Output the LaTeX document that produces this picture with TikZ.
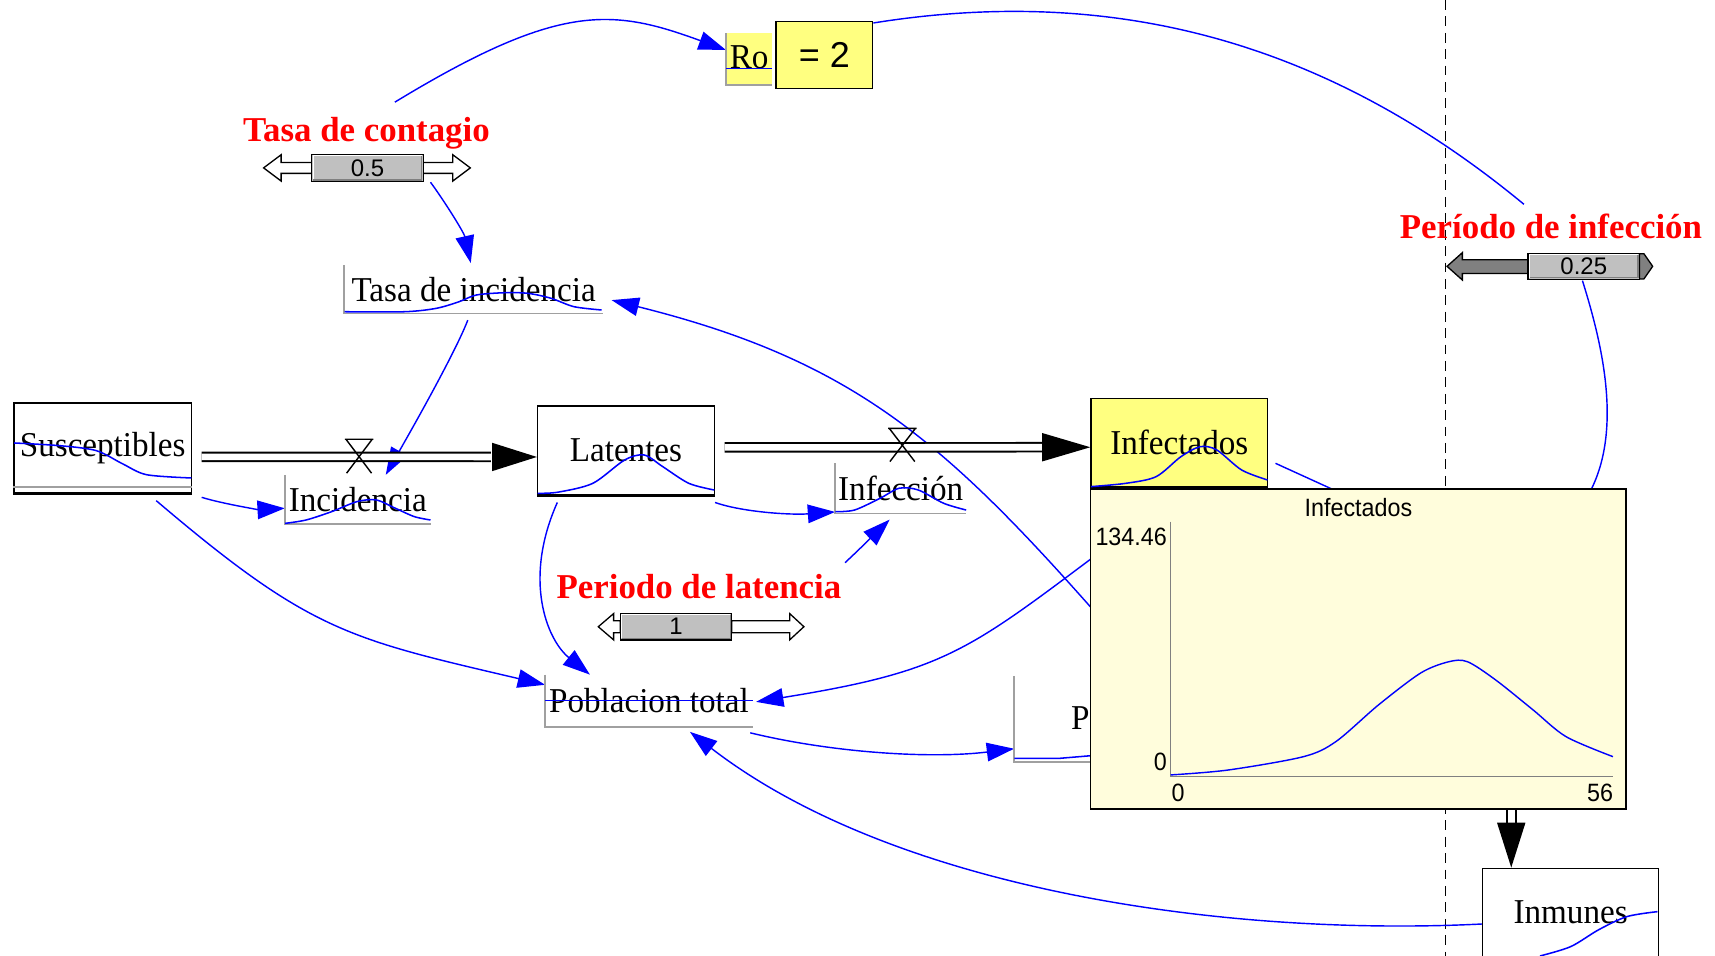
\documentclass[tikz,border=0pt]{standalone}
\usepackage{fontspec}
\setmainfont{Liberation Serif}
\newfontfamily\sansf{Liberation Sans}
\usepackage{graphicx}
\usetikzlibrary{arrows.meta,calc}
\pgfdeclarelayer{bg}
\pgfsetlayers{bg,main}
\definecolor{cblue}{RGB}{0,0,255}
\definecolor{cred}{RGB}{255,0,0}
\definecolor{yel}{RGB}{255,255,128}
\definecolor{paley}{RGB}{255,253,220}
\definecolor{axg}{RGB}{160,160,160}
\definecolor{sgray}{RGB}{192,192,192}
\definecolor{dgray}{RGB}{128,128,128}
\newcommand\lab[1]{\scalebox{0.95}[1]{#1}}
\newcommand\labfont{\fontsize{32}{38}\selectfont}
\newcommand\redfont{\bfseries\fontsize{32}{38}\selectfont}
\newcommand\gfont{\sansf\fontsize{23}{27}\selectfont}
\begin{document}
\begin{tikzpicture}[x=1bp,y=-1bp,
  conn/.style={draw=cblue,line width=1.3bp,-{Triangle[length=25bp,width=17bp]}},
  connfree/.style={draw=cblue,line width=1.3bp},
  spark/.style={draw=cblue,line width=1.4bp},
  stock/.style={draw=black,line width=1.4bp,fill=white,inner sep=0,font=\labfont},
  aux/.style={inner sep=0,font=\labfont},
  lsh/.style={draw=axg,line width=1.6bp},
  pipe/.style={draw=black,line width=1.8bp,double=white,double distance=6bp},
  valvest/.style={draw=black,line width=1.3bp},
  slbox/.style={draw=black,line width=1.2bp,fill=sgray,inner sep=0,font=\sansf\fontsize{22}{26}\selectfont},
  harrow/.style={draw=black,line width=1.2bp,fill=white},
  farrow/.style={draw=black,line width=1.2bp,fill=dgray},
  redlab/.style={text=cred,font=\redfont,inner sep=0,anchor=base},
  gtext/.style={font=\gfont,inner sep=0}]

\useasboundingbox (0,0) rectangle (1568,874);

% ---------- dashed separator ----------
\begin{pgfonlayer}{bg}
\draw[black,line width=1.2bp,dash pattern=on 9bp off 6bp] (1321.7,0) -- (1321.7,874);
\end{pgfonlayer}

% ---------- red labels ----------
\node[redlab] (tcl) at (335,129) {Tasa de contagio};
\node[redlab] (pll) at (639,547) {Periodo de latencia};
\node[redlab] (pil) at (1418,218) {Período de infección};

% ---------- sliders ----------
\draw[harrow] (285,148.5) -- (257,148.5) -- (257,141.5) -- (241,153.5) -- (257,165.5) -- (257,158.5) -- (285,158.5) -- cycle;
\draw[harrow] (387,148.5) -- (414,148.5) -- (414,141.5) -- (430,153.5) -- (414,165.5) -- (414,158.5) -- (387,158.5) -- cycle;
\node[slbox,minimum width=102bp,minimum height=25bp] (s1) at (336,153.5) {0.5};

\draw[harrow] (567,567.5) -- (561,567.5) -- (561,561) -- (547,573) -- (561,585) -- (561,578.5) -- (567,578.5) -- cycle;
\draw[harrow] (669,567.5) -- (722,567.5) -- (722,561) -- (735,573) -- (722,585) -- (722,578.5) -- (669,578.5) -- cycle;
\node[slbox,minimum width=102bp,minimum height=24.3bp] (s2) at (618,572.9) {1};

\draw[farrow] (1397,237.5) -- (1337,237.5) -- (1337,231) -- (1323,243.5) -- (1337,256) -- (1337,250) -- (1397,250) -- cycle;
\draw[farrow] (1499,232) -- (1503,232) -- (1511,243.5) -- (1503,255) -- (1499,255) -- cycle;
\node[slbox,minimum width=102bp,minimum height=23.8bp] (s3) at (1448,243.5) {0.25};

\foreach \s in {s1,s2,s3}{
  \draw[white,line width=1bp] ($(\s.south west)+(2,-2)$) |- ($(\s.north east)+(-2,2)$);
  \draw[dgray,line width=1bp] ($(\s.south west)+(2,-2)$) -| ($(\s.north east)+(-2,2)$);
}

% ---------- Ro ----------
\node[fill=yel,minimum width=42bp,minimum height=47.2bp,inner sep=0] (ro) at (684.9,54.1) {};
\draw[lsh] (ro.north west) -- (ro.south west) -- (ro.south east);
\node[font=\labfont,inner sep=0,anchor=base] (rotxt) at (684.9,62.5) {\lab{Ro}};
\draw[spark] (663.9,62.5) -- (705.9,62.5);
\node[draw=black,line width=1.5bp,fill=yel,minimum width=88bp,minimum height=61bp,inner sep=0,
      font=\sansf\fontsize{33}{40}\selectfont] (eq) at (753.75,50.25) {= 2};

% ---------- stocks ----------
\node[stock,minimum width=162.2bp,minimum height=82bp] (sus) at (93.9,409.5) {\lab{Susceptibles}};
\draw[axg,line width=1.5bp] ($(sus.south west)+(0,-6)$) -- ($(sus.south east)+(0,-6)$);
\draw[line width=3bp] (sus.south west) -- (sus.south east);
\draw[spark] plot[smooth] coordinates {(13,405) (55,407.5) (88,412) (112,424) (134,434) (175,437)};

\node[stock,minimum width=161.5bp,minimum height=81.6bp] (lat) at (572.3,411.8) {\lab{Latentes}};
\draw[line width=3bp] (lat.south west) -- (lat.south east);
\draw[spark] plot[smooth] coordinates {(491.5,451) (510,450) (542,441.9) (571,420.6) (589,416) (606,426.7) (629.8,441.9) (653,448)};

\node[stock,fill=yel,minimum width=161.3bp,minimum height=81.3bp] (inf) at (1078.2,404.9) {\lab{Infectados}};
\draw[line width=3bp] (inf.south west) -- (inf.south east);
\draw[spark] plot[smooth] coordinates {(997.5,444.9) (1029.3,441.9) (1057,435.8) (1079.7,417.5) (1097.3,408.4) (1112.5,411.4) (1135.2,429.7) (1158.8,438.8)};

\node[stock,minimum width=161bp,minimum height=81bp] (inm) at (1436,834.4) {\lab{Inmunes}};
\draw[spark] plot[smooth] coordinates {(1408,874) (1436,865.5) (1461.7,850) (1487.5,838) (1515.4,833.5)};

% ---------- auxiliaries ----------
\node[aux,minimum width=236bp,minimum height=44.2bp] (tinc) at (433,264.4) {\lab{Tasa de incidencia}};
\draw[lsh] (tinc.north west) -- (tinc.south west) -- (tinc.south east);
\draw[spark] plot[smooth] coordinates {(315,285) (370,285) (398.9,281.9) (419.9,275.8) (435.6,269.7) (461.8,267.6) (482.8,268.2) (503.8,272.7) (524.8,280.4) (550,283.4)};

\node[aux,minimum width=133bp,minimum height=44.7bp] (incid) at (327.1,456.7) {\lab{Incidencia}};
\draw[lsh] (incid.north west) -- (incid.south west) -- (incid.south east);
\draw[spark] plot[smooth] coordinates {(260.6,478.5) (279.9,475.4) (303.2,467.8) (326.5,458.6) (344,457.1) (361.5,464.7) (379,472.4) (393.6,475.4)};

\node[aux,minimum width=119.5bp,minimum height=45.7bp] (infcn) at (823.5,446.5) {\lab{Infección}};
\draw[lsh] (infcn.north west) -- (infcn.south west) -- (infcn.south east);
\draw[spark] plot[smooth] coordinates {(763.8,467.8) (781.3,466.3) (804.6,455.6) (822.1,446.4) (839.6,448) (862.9,460.2) (883.3,466.3)};

\node[aux,minimum width=189.5bp,minimum height=47.4bp] (pob) at (593.3,640.7) {\lab{Poblacion total}};
\draw[lsh] (pob.north west) -- (pob.south west) -- (pob.south east);
\draw[spark] (498.5,640.6) -- (688,640.6);

\node[aux,minimum width=132.6bp,minimum height=78.3bp] (prev) at (993.7,657.2) {};
\draw[lsh] (prev.north west) -- (prev.south west) -- (prev.south east);
\node[font=\labfont,inner sep=0,anchor=base west] (prevlbl) at (979,667) {\lab{P}};
\draw[spark] (927.4,693.3) -- (969,693.3) -- (996.5,691);

% ---------- flows ----------
\draw[pipe] ($(sus.east)+(8.7,8.2)$) -- ($(lat.west)+(-42,6)$);
\fill ($(lat.west)+(0,6)$) -- ++(-41,-13) -- ++(0,26) -- cycle;
\begin{scope}[shift={(328.3,401.6)}]
  \draw[valvest] (-13,0) -- (13,0) (-12,0) -- (11.4,31) (12,0) -- (-11.4,31);
\end{scope}

\draw[pipe] ($(lat.east)+(8.8,-2.8)$) -- ($(inf.west)+(-43,4)$);
\fill ($(inf.west)+(0,4)$) -- ++(-44,-13) -- ++(0,26) -- cycle;
\begin{scope}[shift={(825,391.6)}]
  \draw[valvest] (-13,0) -- (13,0) (-12,0) -- (11.4,30.4) (12,0) -- (-11.4,30.4);
\end{scope}

\coordinate (p3s) at ($(inm.north)+(-54.3,-80)$);
\draw[pipe] (p3s) -- ($(inm.north)+(-54.3,-40)$);
\fill ($(inm.north)+(-54.3,0)$) -- ++(-13,-41) -- ++(26,0) -- cycle;

% ---------- connectors ----------
\coordinate (lend) at (1235,455);
\coordinate (mend) at (1440,470);
\begin{pgfonlayer}{bg}
\draw[conn] ($(s1.north)+(25,-47)$) .. controls (511.8,1.7) and (559.8,7.7) .. ($(ro.west)+(0,-8.4)$);
\draw[connfree] ($(s3.north)+(-54.7,-44.2)$) .. controls (1212,37) and (1017,-14) .. ($(eq.north east)+(0,2)$);
\draw[conn] ($(s1.south)+(57.6,0)$) .. controls (405,182) and (424,212) .. ($(tinc.north)+(-2.6,-1.6)$);
\draw[conn] ($(tinc.south)+(-5.3,6)$) .. controls (415,325.5) and (367.6,408) .. ($(incid.north)+(25.6,0)$);
\draw[conn] ($(sus.south east)+(8.7,3.5)$) .. controls (205,461) and (238,466) .. ($(incid.west)+(0,8)$);
\draw[conn] ($(sus.south)+(48.9,6.5)$) .. controls (283.9,577.7) and (318.2,583.9) .. ($(pob.north west)+(0,9.3)$);
\draw[conn] ($(lat.south west)+(18.7,6.1)$) .. controls (478,530) and (500,585) .. ($(pob.north west)+(41,0)$);
\draw[conn] ($(lat.south east)+(0,6.1)$) .. controls (678,468) and (722,471) .. ($(infcn.south west)+(0,-1.5)$);
\draw[conn] ($(s2.north)+(154.6,-45.7)$) .. controls (786,502) and (800,488) .. ($(infcn.south)+(-10.1,5.5)$);
\draw[conn] ($(inf.south)+(-45,38)$) .. controls (886.7,593.2) and (873.3,612.3) .. ($(pob.east)+(3,1)$);
\draw[conn] ($(inf.south)+(-58,135)$) .. controls (868.5,407.8) and (786,330.9) .. ($(tinc.east)+(8,10)$);
\draw[connfree] ($(inf.east)+(6.6,18.7)$) -- (lend);
\draw[connfree] ($(s3.south)+(-1.2,0.6)$) .. controls (1465,315) and (1490,411) .. (mend);
\draw[conn] ($(pob.south east)+(-2.3,5.4)$) .. controls (760,688) and (850,694) .. ($(prev.south west)+(0,-12)$);
\draw[conn] ($(inm.west)+(0,10.4)$) .. controls (1120.4,856.5) and (818.3,813.7) .. ($(pob.south)+(37.5,4.5)$);
\end{pgfonlayer}

% ---------- graph window ----------
\node[draw=black,line width=1.5bp,fill=paley,minimum width=489.6bp,minimum height=292.8bp,inner sep=0] (graph) at (1241.8,593.4) {};
\node[gtext,anchor=base] (gtitle) at (1242,472.4) {\scalebox{0.93}[1]{Infectados}};
\draw[dgray,line width=1.2bp] (1070.4,477) -- (1070.4,710) -- (1474.6,710);
\node[gtext,anchor=base east] (ymax) at (1067,498.3) {\scalebox{0.93}[1]{134.46}};
\node[gtext,anchor=base east] (ymin) at (1067,704) {\scalebox{0.93}[1]{0}};
\node[gtext,anchor=base west] (xmin) at (1071,733) {\scalebox{0.93}[1]{0}};
\node[gtext,anchor=base east] (xmax) at (1475,733) {\scalebox{0.93}[1]{56}};
\draw[spark,line width=1.3bp] plot[smooth] coordinates {(1070.4,708.5) (1122.9,704) (1191.7,691.8) (1221.4,678) (1260.3,644.5) (1298.9,615.3) (1324.6,605) (1341.7,605) (1367.5,621.7) (1401.6,649) (1431.8,673.5) (1474.7,691.8)};

\end{tikzpicture}
\end{document}
